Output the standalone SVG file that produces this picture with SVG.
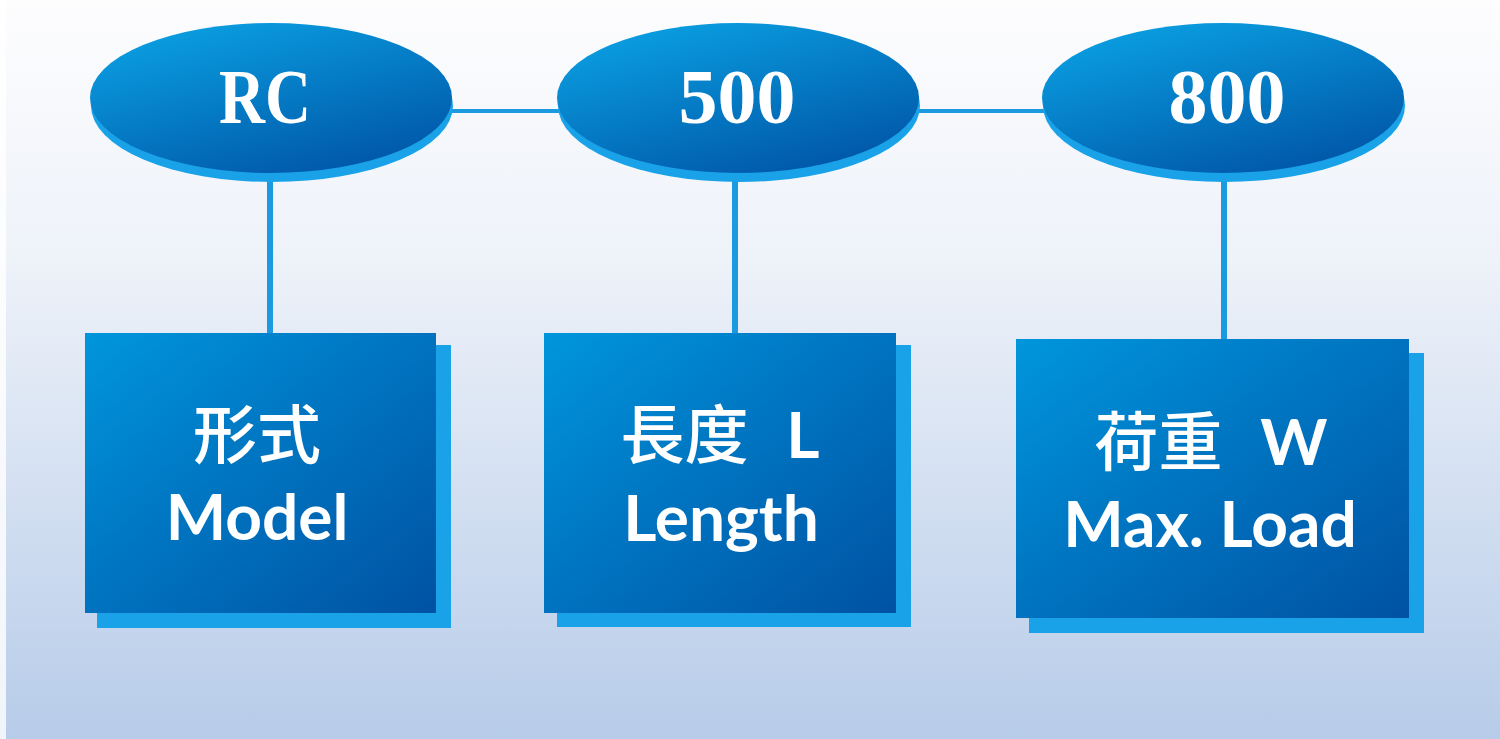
<svg xmlns="http://www.w3.org/2000/svg" width="1500" height="739" viewBox="0 0 1500 739">
<defs>
<linearGradient id="bg" x1="0" y1="0" x2="0" y2="1">
<stop offset="0" stop-color="#fdfdfe"/>
<stop offset="0.35" stop-color="#eef2f9"/>
<stop offset="1" stop-color="#b7cce9"/>
</linearGradient>
<linearGradient id="ell" x1="0.2" y1="0" x2="0.8" y2="1">
<stop offset="0" stop-color="#0aa0e2"/>
<stop offset="1" stop-color="#0054a6"/>
</linearGradient>
<linearGradient id="box" x1="0" y1="0" x2="1" y2="1">
<stop offset="0" stop-color="#0096dc"/>
<stop offset="0.45" stop-color="#0076c2"/>
<stop offset="1" stop-color="#0052a3"/>
</linearGradient>
<style>
.shadow{fill:#19a2e8}
.ell{fill:url(#ell)}
.box{fill:url(#box)}
.conn{stroke:#1b9ae0;fill:none}
.top{font-family:"Liberation Serif",serif;font-weight:bold;font-size:78px;fill:#ffffff;text-anchor:middle}
.lbl{font-family:Lato,"Noto Sans","Noto Sans CJK TC",sans-serif;font-weight:bold;font-size:64px;fill:#ffffff;text-anchor:middle}
.cjk{font-family:"Noto Sans CJK TC",sans-serif;font-weight:500}
</style>
</defs>
<rect x="0" y="0" width="1500" height="739" fill="url(#bg)"/>
<rect x="0" y="0" width="6" height="739" fill="#ffffff" opacity="0.8"/>
<g id="connectors">
<line class="conn" x1="450" y1="111" x2="560" y2="111" stroke-width="4"/>
<line class="conn" x1="917" y1="111" x2="1045" y2="111" stroke-width="4"/>
<line class="conn" x1="270" y1="175" x2="270" y2="334" stroke-width="6"/>
<line class="conn" x1="735" y1="175" x2="735" y2="334" stroke-width="6"/>
<line class="conn" x1="1224" y1="175" x2="1224" y2="340" stroke-width="6"/>
</g>
<g id="node-rc">
<ellipse class="shadow" cx="272" cy="106" rx="181" ry="76"/>
<ellipse class="ell" cx="271" cy="98" rx="181" ry="75"/>
<text class="top" x="265" y="123" textLength="92" lengthAdjust="spacingAndGlyphs">RC</text>
</g>
<g id="node-500">
<ellipse class="shadow" cx="739" cy="106" rx="181" ry="76"/>
<ellipse class="ell" cx="738" cy="98" rx="181" ry="75"/>
<text class="top" x="737" y="123">500</text>
</g>
<g id="node-800">
<ellipse class="shadow" cx="1224" cy="106" rx="181" ry="76"/>
<ellipse class="ell" cx="1223" cy="98" rx="181" ry="75"/>
<text class="top" x="1227" y="123">800</text>
</g>
<g id="node-model">
<rect class="shadow" x="97" y="345" width="354" height="283"/>
<rect class="box" x="85" y="333" width="351" height="280"/>
<text class="lbl" x="257" y="458"><tspan class="cjk">形式</tspan></text>
<text class="lbl" x="257" y="540">Model</text>
</g>
<g id="node-length">
<rect class="shadow" x="557" y="345" width="354" height="282"/>
<rect class="box" x="544" y="333" width="352" height="280"/>
<text class="lbl" x="720" y="458"><tspan class="cjk">長度</tspan><tspan dx="22"> L</tspan></text>
<text class="lbl" x="721" y="541">Length</text>
</g>
<g id="node-load">
<rect class="shadow" x="1029" y="353" width="395" height="280"/>
<rect class="box" x="1016" y="339" width="393" height="279"/>
<text class="lbl" x="1211" y="465"><tspan class="cjk">荷重</tspan><tspan dx="22"> W</tspan></text>
<text class="lbl" x="1210" y="547">Max. Load</text>
</g>
</svg>
